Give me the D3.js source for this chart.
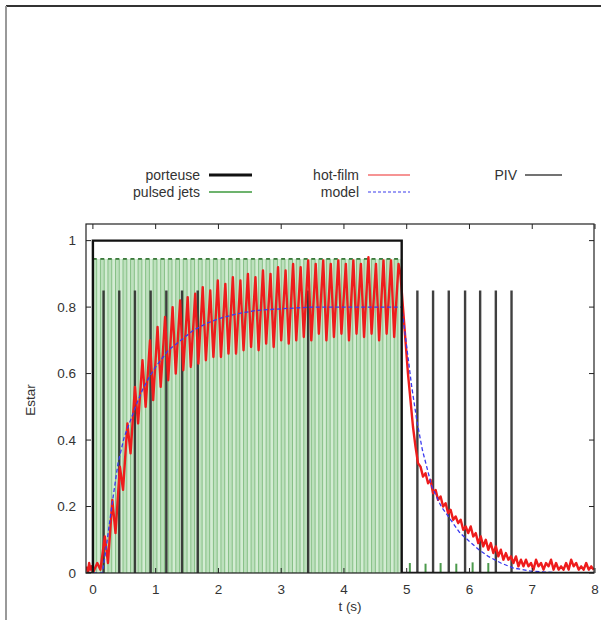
<!DOCTYPE html>
<html><head><meta charset="utf-8">
<script src="https://cdn.jsdelivr.net/npm/d3@7"></script>
<style>
html,body{margin:0;padding:0;background:#fff;}
svg text{font-family:"Liberation Sans",Arial,Helvetica,sans-serif;fill:#333;}
</style></head>
<body>
<svg id="chart" width="601" height="620"></svg>
<script>
// ---------- data ----------
const xTicks = [0,1,2,3,4,5,6,7,8];
const yTicks = [0,0.2,0.4,0.6,0.8,1];
const yTickLabels = ["0","0.2","0.4","0.6","0.8","1"];
const xLabel = "t (s)";
const yLabel = "Estar";
const legendNames = ["porteuse","pulsed jets","hot-film","model","PIV"];

// porteuse (carrier) signal
const porteuseT = [-0.1, 0, 0, 4.92, 4.92, 8];
const porteuseV = [0, 0, 1, 1, 0, 0];

// pulsed jets: on-times of each pulse, pulse duration and amplitude
const pulseStart = [0,0.12,0.24,0.36,0.48,0.60,0.72,0.84,0.96,1.08,1.20,1.32,1.44,1.56,1.68,1.80,1.92,2.04,2.16,2.28,2.40,2.52,2.64,2.76,2.88,3.00,3.12,3.24,3.36,3.48,3.60,3.72,3.84,3.96,4.08,4.20,4.32,4.44,4.56,4.68,4.80];
const pulseWidth = 0.06;
const pulseAmp = 0.945;
// residual small pulses after stop
const residualT = [5.05,5.30,5.54,5.79,6.05,6.30];
const residualV = [0.03,0.028,0.03,0.028,0.032,0.03];

// PIV acquisition instants
const pivT = [0.17,0.42,0.67,0.92,1.17,1.42,1.67,3.43,5.17,5.42,5.67,5.93,6.17,6.42,6.67];
const pivV = 0.85;

// hot-film measurement [t, Estar]
const hotFilm = [
[-0.10,0.02],[-0.08,0.0],[-0.06,0.03],[-0.04,0.01],[-0.02,0.02],
[0.00,0.00],[0.07,0.03],[0.12,0.01],[0.19,0.11],[0.24,0.03],[0.31,0.22],
[0.36,0.12],[0.43,0.32],[0.48,0.25],[0.55,0.45],[0.60,0.36],[0.67,0.56],
[0.72,0.45],[0.79,0.64],[0.84,0.50],[0.91,0.70],[0.96,0.52],[1.03,0.74],
[1.08,0.56],[1.15,0.77],[1.20,0.58],[1.27,0.80],[1.32,0.60],[1.39,0.82],
[1.44,0.61],[1.51,0.83],[1.56,0.62],[1.63,0.84],[1.68,0.63],[1.75,0.86],
[1.80,0.64],[1.87,0.85],[1.92,0.65],[1.99,0.88],[2.04,0.65],[2.11,0.87],
[2.16,0.66],[2.23,0.89],[2.28,0.66],[2.35,0.88],[2.40,0.67],[2.47,0.90],
[2.52,0.68],[2.59,0.89],[2.64,0.67],[2.71,0.91],[2.76,0.69],[2.83,0.90],
[2.88,0.68],[2.95,0.92],[3.00,0.70],[3.07,0.91],[3.12,0.69],[3.19,0.93],
[3.24,0.70],[3.31,0.92],[3.36,0.71],[3.43,0.94],[3.48,0.70],[3.55,0.93],
[3.60,0.72],[3.67,0.94],[3.72,0.70],[3.79,0.93],[3.84,0.71],[3.91,0.94],
[3.96,0.72],[4.03,0.93],[4.08,0.70],[4.15,0.94],[4.20,0.72],[4.27,0.93],
[4.32,0.71],[4.39,0.95],[4.44,0.72],[4.51,0.93],[4.56,0.70],[4.63,0.94],
[4.68,0.72],[4.75,0.94],[4.80,0.71],[4.87,0.93],
[4.90,0.90],[4.94,0.80],[4.98,0.70],[5.02,0.60],[5.06,0.52],[5.10,0.44],
[5.14,0.38],[5.18,0.33],[5.22,0.32],[5.26,0.29],[5.30,0.30],[5.34,0.27],
[5.38,0.28],[5.42,0.24],[5.46,0.25],[5.50,0.22],[5.54,0.23],[5.58,0.20],
[5.62,0.21],[5.66,0.18],[5.70,0.19],[5.74,0.16],[5.78,0.17],[5.82,0.15],
[5.86,0.16],[5.90,0.13],[5.94,0.14],[5.98,0.12],[6.02,0.14],[6.06,0.11],
[6.10,0.12],[6.14,0.09],[6.18,0.11],[6.22,0.08],[6.26,0.10],[6.30,0.07],
[6.34,0.09],[6.38,0.06],[6.42,0.08],[6.46,0.05],[6.50,0.07],[6.54,0.04],
[6.58,0.06],[6.62,0.04],[6.66,0.05],[6.70,0.03],[6.74,0.05],[6.78,0.02],
[6.82,0.04],[6.86,0.02],[6.90,0.04],[6.94,0.02],[6.98,0.03],[7.02,0.01],
[7.06,0.04],[7.10,0.02],[7.14,0.03],[7.18,0.01],[7.22,0.03],[7.26,0.02],
[7.30,0.04],[7.34,0.01],[7.38,0.03],[7.42,0.01],[7.46,0.02],[7.50,0.01],
[7.54,0.03],[7.58,0.01],[7.62,0.04],[7.66,0.02],[7.70,0.03],[7.74,0.01],
[7.78,0.02],[7.82,0.01],[7.86,0.03],[7.90,0.01],[7.94,0.02],[7.98,0.01]
];

// model [t, Estar]
const model = [
[-0.1,0],[0.15,0],[0.2,0.06],[0.3,0.2],[0.4,0.33],[0.5,0.41],[0.6,0.46],
[0.7,0.51],[0.8,0.555],[0.9,0.59],[1.0,0.62],[1.2,0.67],[1.4,0.70],[1.6,0.73],
[1.8,0.75],[2.0,0.765],[2.3,0.78],[2.6,0.79],[3.0,0.795],[3.5,0.80],[4.92,0.80],
[4.98,0.71],[5.08,0.56],[5.16,0.46],[5.25,0.37],[5.4,0.26],[5.55,0.20],[5.7,0.16],
[5.85,0.12],[6.0,0.095],[6.15,0.07],[6.3,0.05],[6.5,0.03],[6.7,0.015],[7.0,0.005],
[7.5,0],[8,0]
];

// ---------- drawing ----------
const svg = d3.select("#chart");
const pL = 86, pR = 594, pT = 224, pB = 573;
const x = d3.scaleLinear().domain([-0.11, 8]).range([pL, 595]);
const y = d3.scaleLinear().domain([0, 1.05]).range([pB, pT]);

// outer frame of the picture
svg.append("line").attr("x1",6).attr("x2",601).attr("y1",6).attr("y2",6)
  .attr("stroke","#333").attr("stroke-width",2);
svg.append("line").attr("x1",6).attr("x2",6).attr("y1",6).attr("y2",620)
  .attr("stroke","#999").attr("stroke-width",2);

svg.append("defs").append("clipPath").attr("id","clip")
  .append("rect").attr("x",pL).attr("y",pT).attr("width",pR-pL).attr("height",pB-pT);
const g = svg.append("g").attr("clip-path","url(#clip)");

// pulsed jets
const lastPulseEnd = porteuseT[3];
g.append("rect")
  .attr("x", x(pulseStart[0])).attr("width", x(lastPulseEnd)-x(pulseStart[0]))
  .attr("y", y(pulseAmp)).attr("height", y(0)-y(pulseAmp))
  .attr("fill","#d3ecd3");
g.selectAll("rect.pulse").data(pulseStart).enter().append("rect")
  .attr("class","pulse")
  .attr("x", d=>x(d)).attr("width", d=>x(d+pulseWidth)-x(d))
  .attr("y", y(pulseAmp)).attr("height", y(0)-y(pulseAmp))
  .attr("fill","#bde0bd");
const sq = [];
pulseStart.forEach(s => { sq.push([s,0],[s,pulseAmp],[s+pulseWidth,pulseAmp],[s+pulseWidth,0]); });
const line = d3.line().x(d=>x(d[0])).y(d=>y(d[1]));
g.append("path").attr("d", line(sq)).attr("fill","none")
  .attr("stroke","#86c086").attr("stroke-width",1);
g.selectAll("line.ptop").data(pulseStart).enter().append("line")
  .attr("class","ptop")
  .attr("x1", d=>x(d)).attr("x2", d=>x(d+pulseWidth))
  .attr("y1", y(pulseAmp)).attr("y2", y(pulseAmp))
  .attr("stroke","#2e6e2e").attr("stroke-width",1.6);
g.selectAll("line.resid").data(residualT).enter().append("line")
  .attr("class","resid")
  .attr("x1", d=>x(d)).attr("x2", d=>x(d))
  .attr("y1", y(0)).attr("y2", (d,i)=>y(residualV[i]))
  .attr("stroke","#4c9a4c").attr("stroke-width",2);

// PIV
g.selectAll("line.piv").data(pivT).enter().append("line")
  .attr("class","piv")
  .attr("x1", d=>x(d)).attr("x2", d=>x(d))
  .attr("y1", y(0)).attr("y2", y(pivV))
  .attr("stroke","#2b2b2b").attr("stroke-width",2.4).attr("stroke-opacity",0.9);

// hot-film
g.append("path").attr("d", line(hotFilm)).attr("fill","none")
  .attr("stroke","#ee1c1c").attr("stroke-width",2.4).attr("stroke-linejoin","round");

// model
g.append("path").attr("d", line(model)).attr("fill","none")
  .attr("stroke","#3a3aee").attr("stroke-width",1.3).attr("stroke-dasharray","4,2.5");

// porteuse
g.append("path").attr("d", line(porteuseT.map((t,i)=>[t,porteuseV[i]]))).attr("fill","none")
  .attr("stroke","#111").attr("stroke-width",2.4);

// plot frame
svg.append("rect").attr("x",pL).attr("y",pT).attr("width",pR-pL).attr("height",pB-pT)
  .attr("fill","none").attr("stroke","#222").attr("stroke-width",1.2);

// ticks
const tl = 5;
xTicks.forEach(t => {
  if (x(t) > pR + 1) return;
  svg.append("line").attr("x1",x(t)).attr("x2",x(t)).attr("y1",pB).attr("y2",pB-tl).attr("stroke","#222");
  svg.append("line").attr("x1",x(t)).attr("x2",x(t)).attr("y1",pT).attr("y2",pT+tl).attr("stroke","#222");
});
yTicks.forEach(v => {
  svg.append("line").attr("x1",pL).attr("x2",pL+tl).attr("y1",y(v)).attr("y2",y(v)).attr("stroke","#222");
  svg.append("line").attr("x1",pR).attr("x2",pR-tl).attr("y1",y(v)).attr("y2",y(v)).attr("stroke","#222");
});
// tick labels
svg.selectAll("text.xt").data(xTicks).enter().append("text")
  .attr("class","xt").attr("x",d=>x(d)).attr("y",594)
  .attr("text-anchor","middle").style("font-size","13.5px").text(d=>d);
svg.selectAll("text.yt").data(yTicks).enter().append("text")
  .attr("class","yt").attr("x",76).attr("y",d=>y(d)+4.5)
  .attr("text-anchor","end").style("font-size","13.5px").text((d,i)=>yTickLabels[i]);
// axis titles
svg.append("text").attr("x",350).attr("y",611).attr("text-anchor","middle")
  .style("font-size","13.5px").text(xLabel);
svg.append("text").attr("transform","translate(35,400) rotate(-90)").attr("text-anchor","middle")
  .style("font-size","13.5px").text(yLabel);

// legend
const legend = [
  {name:legendNames[0], tx:200, y:175, x1:209, x2:252, stroke:"#111", w:3, dash:null},
  {name:legendNames[1], tx:200, y:192, x1:209, x2:252, stroke:"#3c9a3c", w:1.5, dash:null},
  {name:legendNames[2], tx:359, y:175, x1:368, x2:410, stroke:"#ee2a2a", w:1.2, dash:null},
  {name:legendNames[3], tx:359, y:192, x1:368, x2:410, stroke:"#3a3aee", w:1.2, dash:"3,2"},
  {name:legendNames[4], tx:517, y:175, x1:525, x2:562, stroke:"#444", w:1.3, dash:null}
];
legend.forEach(l => {
  svg.append("text").attr("x",l.tx).attr("y",l.y+5).attr("text-anchor","end")
    .style("font-size","14px").text(l.name);
  svg.append("line").attr("x1",l.x1).attr("x2",l.x2).attr("y1",l.y).attr("y2",l.y)
    .attr("stroke",l.stroke).attr("stroke-width",l.w).attr("stroke-dasharray",l.dash);
});
</script>
</body></html>
